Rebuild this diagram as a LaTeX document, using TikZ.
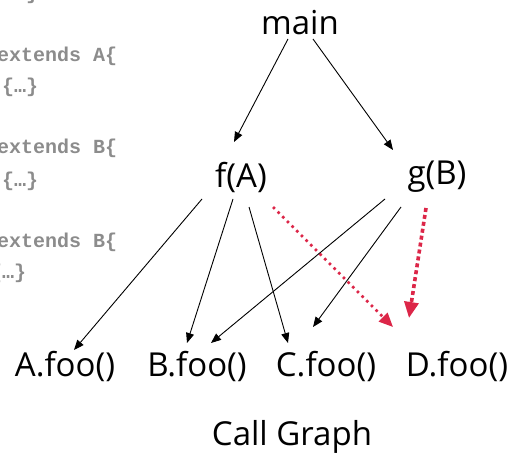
\documentclass[tikz,border=0pt]{standalone}
\usepackage{fontspec}
\setmainfont{Open Sans}
\newfontfamily\codefont{Liberation Mono}
\usepackage{xcolor}
\usepackage{tikz}
\usetikzlibrary{arrows.meta,calc}

\definecolor{callred}{RGB}{220,38,72}
\definecolor{codegray}{RGB}{140,140,140}

\begin{document}
\begin{tikzpicture}[
    x=1pt, y=-1pt,
    fn/.style={inner sep=0pt, font=\fontsize{33}{38}\selectfont},
    code/.style={inner sep=0pt, anchor=base west, text=codegray, font=\codefont\bfseries\fontsize{20}{24}\selectfont},
    call/.style={-{Triangle[length=10pt,width=8pt]}, line width=0.9pt, black},
    vcall/.style={-{Triangle[length=14pt,width=12pt]}, line width=2.6pt, callred, dash pattern=on 2.6pt off 4pt},
    vcallb/.style={-{Triangle[length=16pt,width=14pt]}, line width=3.6pt, callred, dash pattern=on 4pt off 3pt}
]
\useasboundingbox (0,0) rectangle (511,457);

% source code, cut off at the left edge
\node[code] (c0) at (26,0)   {\}};
\node[code] (c1) at (-3,62)  {extends A\{};
\node[code] (c2) at (2,93)   {\{…\}};
\node[code] (c3) at (-3,154) {extends B\{};
\node[code] (c4) at (2,186)  {\{…\}};
\node[code] (c5) at (-3,247) {extends B\{};
\node[code] (c6) at (-10,278) {\{…\}};

% call graph
\node[fn] (main) at (300,23)  {main};
\node[fn] (fA)   at (241,177) {f(A)};
\node[fn] (gB)   at (437,177) {g(B)};
\node[fn] (Afoo) at (65,366)  {A.foo()};
\node[fn] (Bfoo) at (197,366) {B.foo()};
\node[fn] (Cfoo) at (326,366) {C.foo()};
\node[fn] (Dfoo) at (457,366) {D.foo()};
\node[fn] (cap)  at (292,437) {Call Graph};

\draw[call] ($(main)+(-12,16)$) -- ($(fA)+(-7,-35)$);
\draw[call] ($(main)+(13,16)$)  -- ($(gB)+(-44,-27)$);

\draw[call] ($(fA)+(-39,22)$) -- ($(Afoo)+(9,-16)$);
\draw[call] ($(fA)+(-8,22)$)  -- ($(Bfoo)+(-10,-23)$);
\draw[call] ($(fA)+(8,30)$)   -- ($(Cfoo)+(-38,-23)$);
\draw[call] ($(gB)+(-52,22)$) -- ($(Bfoo)+(14,-23)$);
\draw[call] ($(gB)+(-36,30)$) -- ($(Cfoo)+(-13,-39)$);

\draw[vcall]  ($(fA)+(32,30)$)  -- ($(Dfoo)+(-64,-39)$);
\draw[vcallb] ($(gB)+(-11,31)$) -- ($(Dfoo)+(-48,-48)$);

\end{tikzpicture}
\end{document}
